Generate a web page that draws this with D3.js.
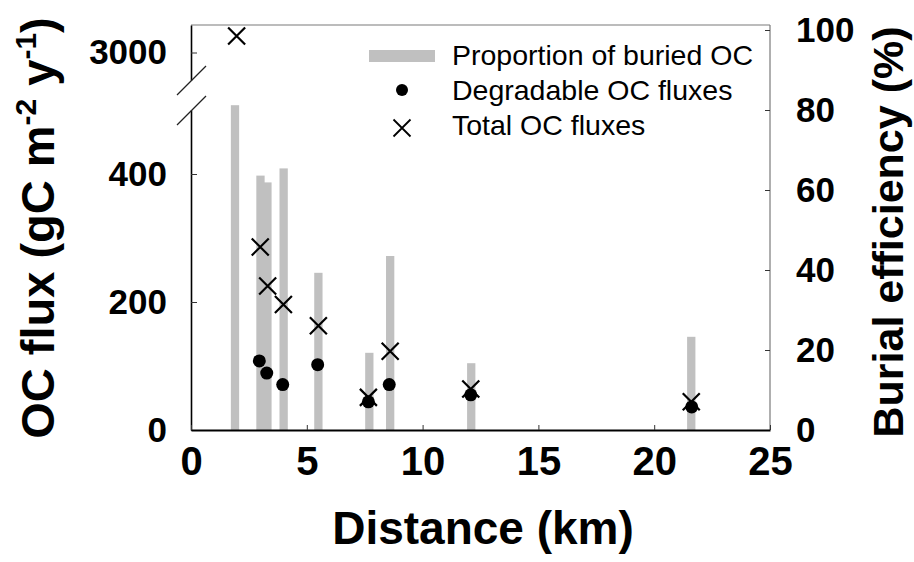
<!DOCTYPE html>
<html>
<head>
<meta charset="utf-8">
<script src="https://cdn.jsdelivr.net/npm/d3@7"></script>
<style>
  html, body { margin: 0; padding: 0; background: #fff; }
  svg { display: block; }
  text { font-family: "Liberation Sans", Arial, sans-serif; }
</style>
</head>
<body>
<svg id="chart" width="914" height="562"></svg>
<script>
// ---- data ----
const barDist = [1.9, 3.0, 3.3, 4.0, 5.5, 7.7, 8.6, 12.1, 21.6];
const barEff  = [81.2, 63.6, 61.9, 65.4, 39.3, 19.3, 43.5, 16.7, 23.3];
const degDist = [2.95, 3.27, 3.96, 5.47, 7.66, 8.56, 12.08, 21.62];
const degFlux = [108, 89, 71, 102, 44, 71, 55, 36];
const totDist = [1.97, 2.99, 3.31, 3.99, 5.5, 7.66, 8.6, 12.08, 21.6];
const totFlux = [3060, 286, 225, 196, 163, 51, 123, 64, 44];
const xTicks = [0, 5, 10, 15, 20, 25];
const yLowTicks = [0, 200, 400];
const yHighTicks = [3000];
const yRightTicks = [0, 20, 40, 60, 80, 100];
const legendLabels = ["Proportion of buried OC", "Degradable OC fluxes", "Total OC fluxes"];

// ---- layout ----
const L = 191, R = 770, T = 25, B = 430;
const breakLow = 110, breakHigh = 80;

const svg = d3.select("#chart");
const x = d3.scaleLinear().domain([0, 25]).range([L, R]);
const yLow = d3.scaleLinear().domain([0, 500]).range([B, breakLow]);
const yHigh = d3.scaleLinear().domain([2900, 3100]).range([breakHigh, T]);
const yFlux = v => v <= 500 ? yLow(v) : yHigh(v);
const yEff = d3.scaleLinear().domain([0, 100]).range([B, 30]);
const fmt = d3.format("d");

const tickFont = 35;
const styleText = g => g.selectAll("text").attr("font-weight", "bold").attr("fill", "#000")
  .attr("font-family", '"Liberation Sans", Arial, sans-serif');

// bars
const barW = 8.3;
svg.append("g").selectAll("rect").data(barDist.map((d, i) => ({d, v: barEff[i]})))
  .join("rect")
  .attr("x", p => x(p.d) - barW / 2)
  .attr("width", barW)
  .attr("y", p => yEff(p.v))
  .attr("height", p => B - yEff(p.v))
  .attr("fill", "#c0c0c0");

// frame: top (grey)
svg.append("line").attr("x1", L).attr("x2", R).attr("y1", T).attr("y2", T)
  .attr("stroke", "#7a7a7a").attr("stroke-width", 1.2);

// right axis
const gR = svg.append("g").attr("transform", `translate(${R},0)`)
  .call(d3.axisRight(yEff).tickValues(yRightTicks).tickFormat(fmt).tickSize(-5).tickPadding(26).tickSizeOuter(0));
gR.select(".domain").attr("stroke", "#7a7a7a").attr("stroke-width", 1.2).attr("d", `M0,${T}V${B}`);
gR.selectAll(".tick line").attr("stroke", "#333");
styleText(gR); gR.selectAll("text").attr("font-size", tickFont);

// left axis lower segment
const gL = svg.append("g").attr("transform", `translate(${L},0)`)
  .call(d3.axisLeft(yLow).tickValues(yLowTicks).tickFormat(fmt).tickSize(-6).tickPadding(24).tickSizeOuter(0));
gL.select(".domain").attr("stroke", "#000").attr("stroke-width", 1.6);
gL.selectAll(".tick line").attr("stroke", "#333");
styleText(gL); gL.selectAll("text").attr("font-size", tickFont);

// left axis upper segment
const gH = svg.append("g").attr("transform", `translate(${L},0)`)
  .call(d3.axisLeft(yHigh).tickValues(yHighTicks).tickFormat(fmt).tickSize(-6).tickPadding(24).tickSizeOuter(0));
gH.select(".domain").attr("stroke", "#000").attr("stroke-width", 1.6);
gH.selectAll(".tick line").attr("stroke", "#333");
styleText(gH); gH.selectAll("text").attr("font-size", tickFont);

// break marks
[breakHigh, breakLow].forEach(yb => {
  svg.append("line")
    .attr("x1", L - 14).attr("y1", yb + 15)
    .attr("x2", L + 15).attr("y2", yb - 14)
    .attr("stroke", "#222").attr("stroke-width", 1.2);
});

// bottom axis
const gB = svg.append("g").attr("transform", `translate(0,${B})`)
  .call(d3.axisBottom(x).tickValues(xTicks).tickFormat(fmt).tickSize(-5).tickPadding(17).tickSizeOuter(0));
gB.select(".domain").attr("stroke", "#000").attr("stroke-width", 2);
gB.selectAll(".tick line").attr("stroke", "#333");
styleText(gB); gB.selectAll("text").attr("font-size", 40);

// degradable dots
svg.append("g").selectAll("circle").data(degDist.map((d, i) => ({d, v: degFlux[i]})))
  .join("circle")
  .attr("cx", p => x(p.d)).attr("cy", p => yFlux(p.v)).attr("r", 6.5).attr("fill", "#000");

// total X markers
const xs = 8.5;
const crossPath = s => `M${-s},${-s}L${s},${s}M${-s},${s}L${s},${-s}`;
svg.append("g").selectAll("path").data(totDist.map((d, i) => ({d, v: totFlux[i]})))
  .join("path")
  .attr("transform", p => `translate(${x(p.d)},${yFlux(p.v)})`)
  .attr("d", crossPath(xs))
  .attr("stroke", "#000").attr("stroke-width", 2.2).attr("fill", "none");

// legend
const lg = svg.append("g");
const lx = 452, ly0 = 65, lstep = 35;
lg.append("rect").attr("x", 369).attr("y", 50).attr("width", 66).attr("height", 12).attr("fill", "#c0c0c0");
lg.append("circle").attr("cx", 402).attr("cy", 90).attr("r", 6).attr("fill", "#000");
lg.append("path").attr("transform", "translate(402,128)").attr("d", crossPath(8.5))
  .attr("stroke", "#000").attr("stroke-width", 1.8).attr("fill", "none");
lg.selectAll("text").data(legendLabels).join("text")
  .attr("x", lx).attr("y", (d, i) => ly0 + i * lstep)
  .attr("font-size", 28.5).attr("fill", "#000").text(d => d);

// x title
svg.append("text").attr("x", 483).attr("y", 544).attr("text-anchor", "middle")
  .attr("font-size", 46).attr("font-weight", "bold").text("Distance (km)");

// left title
const lt = svg.append("text").attr("transform", "translate(54,228) rotate(-90)")
  .attr("text-anchor", "middle").attr("font-size", 47).attr("font-weight", "bold");
lt.append("tspan").text("OC flux (gC m");
lt.append("tspan").attr("font-size", 30).attr("dy", -18).text("-2");
lt.append("tspan").attr("dy", 18).text(" y");
lt.append("tspan").attr("font-size", 30).attr("dy", -18).text("-1");
lt.append("tspan").attr("dy", 18).text(")");

// right title
svg.append("text").attr("transform", "translate(903,232) rotate(-90)")
  .attr("text-anchor", "middle").attr("font-size", 43).attr("font-weight", "bold")
  .text("Burial efficiency (%)");
</script>
</body>
</html>
